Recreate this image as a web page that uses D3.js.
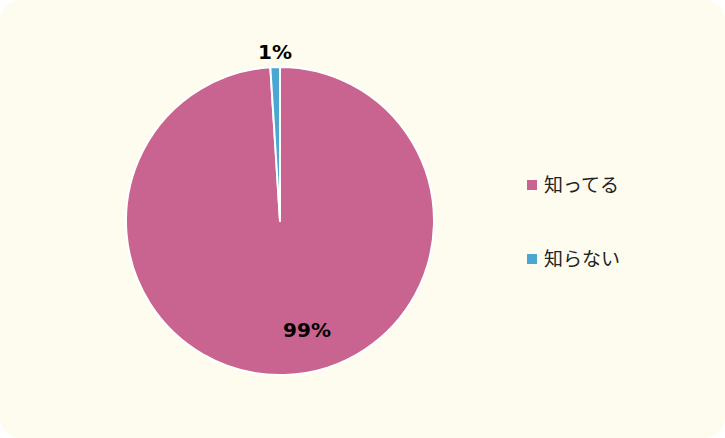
<!DOCTYPE html>
<html><head><meta charset="utf-8">
<script src="https://cdn.jsdelivr.net/npm/d3@7"></script>
<style>body{margin:0;background:#fff}</style>
</head><body>
<svg id="c" width="725" height="438"></svg>
<script>
const categories = ["知ってる", "知らない"];
const values = [99, 1];
const labels = ["99%", "1%"];
const colors = ["#C96390", "#4BA6D1"];

const svg = d3.select("#c");
svg.append("rect").attr("x",0).attr("y",0).attr("width",725).attr("height",438)
  .attr("rx",20).attr("ry",20).attr("fill","#FEFCEE");

const cx = 280, cy = 221, r = 154;
const pie = d3.pie().sort(null).value(d => d)(values);
const arc = d3.arc().innerRadius(0).outerRadius(r);
const g = svg.append("g").attr("transform", `translate(${cx},${cy})`);
g.selectAll("path").data(pie).join("path")
  .attr("d", arc).attr("fill", (d,i) => colors[i])
  .attr("stroke", "#fff").attr("stroke-width", 2).attr("stroke-linejoin","round");

const labelPos = [[27, 109], [-5, -169]];
g.selectAll("text").data(pie).join("text")
  .attr("x", (d,i) => labelPos[i][0]).attr("y", (d,i) => labelPos[i][1])
  .attr("text-anchor","middle").attr("dominant-baseline","central")
  .attr("font-family","Verdana, 'DejaVu Sans', sans-serif").attr("font-weight","bold")
  .attr("font-size", 20).attr("fill","#000")
  .text((d,i) => labels[i]);

const lg = svg.append("g");
categories.forEach((c, i) => {
  const y = 185 + i * 74;
  lg.append("rect").attr("x", 527).attr("y", y - 5).attr("width", 10).attr("height", 10)
    .attr("fill", colors[i]);
  lg.append("text").attr("x", 544).attr("y", y - 2).attr("dominant-baseline","central")
    .attr("font-family","'Noto Sans CJK JP', sans-serif").attr("font-size", 19)
    .attr("fill","#222").text(c);
});
</script>
</body></html>
